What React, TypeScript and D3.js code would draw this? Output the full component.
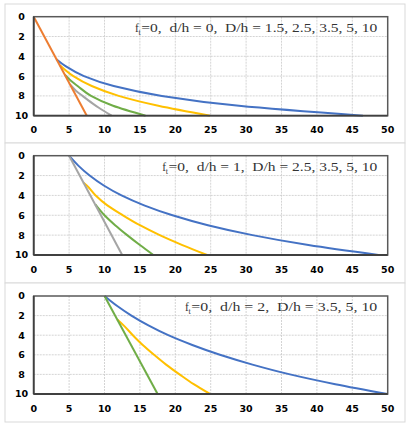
import React from "react";
import * as d3 from "d3";

// ---- data (x = value, y = depth) ----
const X_TICKS = [0, 5, 10, 15, 20, 25, 30, 35, 40, 45, 50];
const Y_TICKS = [0, 2, 4, 6, 8, 10];

// Panel 1: ft=0, d/h=0
const p1Orange: [number, number][] = [[0, 0], [7.5, 10]];
const p1Blue: [number, number][] = [[3.2, 4.3], [4.5, 5], [7.1, 6], [11.3, 7], [18.1, 8], [29, 9], [46.5, 10]];
const p1Yellow: [number, number][] = [[3.7, 4.9], [5.6, 6], [8.2, 7], [12, 8], [17.6, 9], [24.9, 10]];
const p1Green: [number, number][] = [[4.4, 5.85], [5.3, 6.5], [6.2, 7], [8.1, 8], [11.2, 9], [15.8, 10]];
const p1Gray: [number, number][] = [[5.2, 6.9], [6.0, 7.5], [6.9, 8], [8.3, 8.75], [9.2, 9.2], [11, 10]];

// Panel 2: ft=0, d/h=1
const p2Gray: [number, number][] = [[5, 0], [12.5, 10]];
const p2Blue: [number, number][] = [[5, 0], [6.3, 1], [7.9, 2], [9.9, 3], [12.4, 4], [15.6, 5], [19.6, 6], [24.6, 7], [30.9, 8], [38.8, 9], [48.7, 10]];
const p2Yellow: [number, number][] = [[7.0, 2.7], [7.5, 3], [8.75, 4], [10.4, 5], [12.6, 6], [15.0, 7], [17.8, 8], [21.0, 9], [24.5, 10]];
const p2Green: [number, number][] = [[8.7, 4.9], [10.0, 6], [11.5, 7], [13.2, 8], [15.0, 9], [16.9, 10]];

// Panel 3: ft=0, d/h=2
const p3Green: [number, number][] = [[10, 0], [17.5, 10]];
const p3Blue: [number, number][] = [[10, 0], [11.75, 1], [13.8, 2], [16.2, 3], [19, 4], [22.4, 5], [26.3, 6], [30.9, 7], [36.2, 8], [42.6, 9], [50, 10]];
const p3Yellow: [number, number][] = [[11.8, 2.4], [12.7, 3], [14.0, 4], [15.4, 5], [17.0, 6], [18.7, 7], [20.6, 8], [22.6, 9], [24.9, 10]];

const LABELS = [
  "=0,  d/h = 0,  D/h = 1.5, 2.5, 3.5, 5, 10",
  "=0,  d/h = 1,  D/h = 2.5, 3.5, 5, 10",
  "=0,  d/h = 2,  D/h = 3.5, 5, 10",
];

const BLUE = "#4472C4";
const ORANGE = "#ED7D31";
const GRAY = "#A5A5A5";
const YELLOW = "#FFC000";
const GREEN = "#70AD47";

type Series = { data: [number, number][]; color: string };

const panels: {
  box: [number, number];
  plot: [number, number];
  series: Series[];
  label: string;
  labelStart: number;
  xLabelY: number;
}[] = [
  {
    box: [4, 143],
    plot: [16.7, 115.7],
    series: [
      { data: p1Blue, color: BLUE },
      { data: p1Yellow, color: YELLOW },
      { data: p1Green, color: GREEN },
      { data: p1Gray, color: GRAY },
      { data: p1Orange, color: ORANGE },
    ],
    label: LABELS[0],
    labelStart: 135,
    xLabelY: 130,
  },
  {
    box: [143, 283],
    plot: [155.7, 255],
    series: [
      { data: p2Blue, color: BLUE },
      { data: p2Yellow, color: YELLOW },
      { data: p2Green, color: GREEN },
      { data: p2Gray, color: GRAY },
    ],
    label: LABELS[1],
    labelStart: 162.3,
    xLabelY: 269.5,
  },
  {
    box: [283, 422],
    plot: [296, 394],
    series: [
      { data: p3Blue, color: BLUE },
      { data: p3Yellow, color: YELLOW },
      { data: p3Green, color: GREEN },
    ],
    label: LABELS[2],
    labelStart: 185,
    xLabelY: 409,
  },
];

const x = d3.scaleLinear().domain([0, 50]).range([33.7, 387.7]);
const TICK_FONT = "'DejaVu Sans', sans-serif";
const SERIF = "'Liberation Serif', 'DejaVu Serif', serif";
const LABEL_END = 377.3;

export default function App() {
  return (
    <svg
      width={415}
      height={430}
      style={{ position: "absolute", left: 0, top: 0, background: "#fff" }}
    >
      {panels.map((p, i) => {
        const y = d3.scaleLinear().domain([0, 10]).range(p.plot);
        const line = d3
          .line<[number, number]>()
          .x((d) => x(d[0]))
          .y((d) => y(d[1]))
          .curve(d3.curveMonotoneY);
        const [x0, x1] = x.range();
        const [y0, y1] = p.plot;
        const baseline = y0 + 15.4;
        const restStart = p.labelStart + 6.3;
        return (
          <g key={i}>
            <rect x={5} y={p.box[0]} width={400} height={p.box[1] - p.box[0]} fill="#fff" stroke="#D9D9D9" strokeWidth={1} />
            {X_TICKS.filter((t) => t > 0 && t < 50).map((t) => (
              <line key={"gx" + t} x1={x(t)} x2={x(t)} y1={y0} y2={y1} stroke="#C9C9C9" strokeWidth={0.8} strokeDasharray="2,1" />
            ))}
            {Y_TICKS.filter((t) => t > 0 && t < 10).map((t) => (
              <line key={"gy" + t} x1={x0} x2={x1} y1={y(t)} y2={y(t)} stroke="#C9C9C9" strokeWidth={0.8} strokeDasharray="2,1" />
            ))}
            <text x={p.labelStart} y={baseline} fontFamily={SERIF} fontSize={11.5} fill="#333">f</text>
            <text x={p.labelStart + 3.4} y={baseline + 2.5} fontFamily={SERIF} fontSize={8} fill="#333">t</text>
            <text
              x={restStart}
              y={baseline}
              fontFamily={SERIF}
              fontSize={11.5}
              fill="#333"
              textLength={LABEL_END - restStart}
              lengthAdjust="spacingAndGlyphs"
              style={{ whiteSpace: "pre" }}
            >
              {p.label}
            </text>
            {p.series.map((s, j) => (
              <path key={j} d={line(s.data) || ""} fill="none" stroke={s.color} strokeWidth={2} />
            ))}
            <rect x={x0} y={y0} width={x1 - x0} height={y1 - y0} fill="none" stroke="#595959" strokeWidth={1.5} />
            <line x1={x0} x2={x0} y1={y0} y2={y1} stroke="#404040" strokeWidth={1.8} />
            <line x1={x0} x2={x1} y1={y1} y2={y1} stroke="#404040" strokeWidth={1.8} />
            {Y_TICKS.map((t) => (
              <text key={"yl" + t} x={21.5} y={y(t)} dy="0.36em" textAnchor="middle" fontFamily={TICK_FONT} fontWeight="bold" fontSize={9.5} fill="#000">
                {t}
              </text>
            ))}
            {X_TICKS.map((t) => (
              <text key={"xl" + t} x={x(t)} y={p.xLabelY} dy="0.36em" textAnchor="middle" fontFamily={TICK_FONT} fontWeight="bold" fontSize={9.5} fill="#000">
                {t}
              </text>
            ))}
          </g>
        );
      })}
    </svg>
  );
}
